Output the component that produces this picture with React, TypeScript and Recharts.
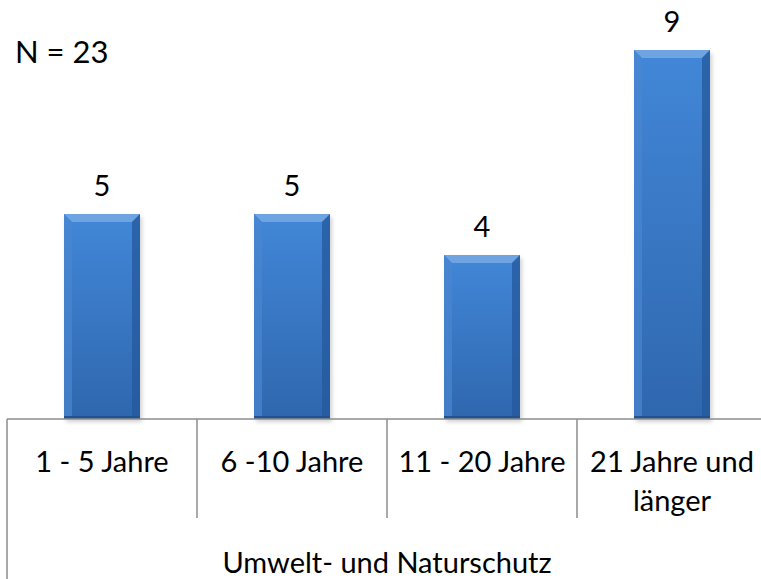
import { BarChart, Bar, XAxis, YAxis, LabelList } from 'recharts';

const categories = ['1 - 5 Jahre', '6 -10 Jahre', '11 - 20 Jahre', '21 Jahre und\nlänger'];
const counts = [5, 5, 4, 9];
const groupLabel = 'Umwelt- und Naturschutz';
const sampleNote = 'N = 23';

const data = categories.map((name, i) => ({ name, value: counts[i] }));

const FONT = 'Lato, "Open Sans", sans-serif';
const FS = 29;
const CHART_W = 767;
const LEFT = 7;
const BAND = (CHART_W - LEFT) / categories.length;

const BarShape = (props: any) => {
  const { x, y, width, height } = props;
  if (!height || height <= 0) return null;
  const b = 8;
  return (
    <g>
      <rect x={x + 2} y={y + 3} width={width} height={height} fill="#000" opacity={0.18} filter="url(#soft)" />
      <rect x={x} y={y} width={width} height={height} fill="url(#barV)" />
      <polygon points={`${x},${y} ${x + width},${y} ${x + width - b},${y + b} ${x + b},${y + b}`} fill="#6fa4e3" />
      <polygon points={`${x},${y} ${x + b},${y + b} ${x + b},${y + height - 3} ${x},${y + height}`} fill="#4a86d0" opacity={0.7} />
      <polygon points={`${x + width},${y} ${x + width - b},${y + b} ${x + width - b},${y + height - 3} ${x + width},${y + height}`} fill="#24589c" opacity={0.75} />
      <rect x={x} y={y + height - 3} width={width} height={3} fill="#22538f" />
    </g>
  );
};

const CategoryTick = (props: any) => {
  const { x, y, payload, index } = props;
  const lines = String(payload.value).split('\n');
  const left = x - BAND / 2;
  return (
    <g>
      <line x1={left} y1={y} x2={left} y2={index === 0 ? 579 : 518} stroke="#8c8c8c" strokeWidth={1.5} />
      {lines.map((l, i) => (
        <text key={i} x={x} y={y + 53 + i * 39} textAnchor="middle" fontFamily={FONT} fontSize={FS} fill="#000">
          {l}
        </text>
      ))}
      {index === 0 && (
        <text x={LEFT + (CHART_W - LEFT) / 2} y={y + 154} textAnchor="middle" fontFamily={FONT} fontSize={FS} fill="#000">
          {groupLabel}
        </text>
      )}
    </g>
  );
};

export default function App() {
  return (
    <div style={{ position: 'absolute', left: 0, top: 0, width: 761, height: 579, overflow: 'hidden', background: '#fff' }}>
      <BarChart width={CHART_W} height={579} data={data} margin={{ top: 9, right: 0, left: LEFT, bottom: 0 }} barCategoryGap="30%">
        <defs>
          <linearGradient id="barV" x1="0" y1="0" x2="0" y2="1">
            <stop offset="0%" stopColor="#4287d8" />
            <stop offset="100%" stopColor="#2f67ae" />
          </linearGradient>
          <filter id="soft" x="-20%" y="-20%" width="140%" height="140%">
            <feGaussianBlur stdDeviation="2" />
          </filter>
        </defs>
        <XAxis
          dataKey="name"
          height={160}
          axisLine={{ stroke: '#8c8c8c', strokeWidth: 1.5 }}
          tickLine={false}
          tickSize={0}
          tickMargin={0}
          interval={0}
          tick={<CategoryTick />}
        />
        <YAxis hide domain={[0, 10]} />
        <Bar dataKey="value" shape={<BarShape />} isAnimationActive={false}>
          <LabelList dataKey="value" position="top" offset={18} fontFamily={FONT} fontSize={FS} fill="#000" />
        </Bar>
        <text x={15} y={63} fontFamily={FONT} fontSize={31} fill="#000">{sampleNote}</text>
      </BarChart>
    </div>
  );
}
